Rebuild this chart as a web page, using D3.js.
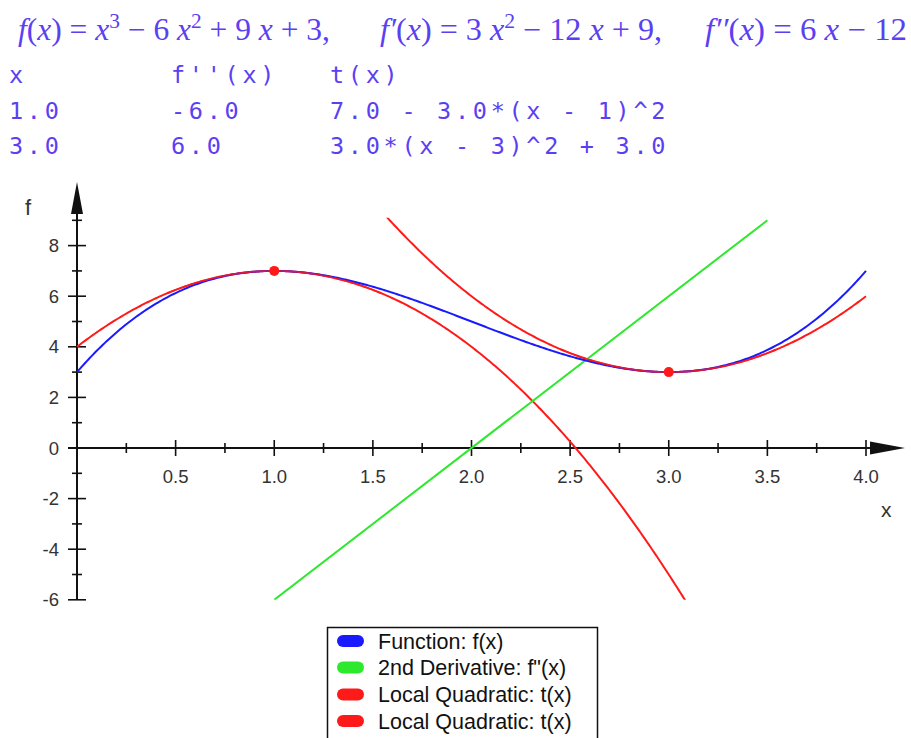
<!DOCTYPE html>
<html>
<head>
<meta charset="utf-8">
<script src="https://cdn.jsdelivr.net/npm/d3@7"></script>
<style>
  html, body { margin: 0; padding: 0; background: #ffffff; }
  svg { display: block; }
</style>
</head>
<body>
<svg id="chart" width="911" height="738"></svg>
<script>
// Cubic f(x) = x^3 - 6x^2 + 9x + 3, coefficients from highest power down
const fCoeffs = [1, -6, 9, 3];
// Second derivative f''(x) = 6x - 12
const f2Coeffs = [6, -12];
// Sample points of the table: x, f''(x), and the local quadratic t(x) = c + k*(x - a)^2
const tableX = [1.0, 3.0];
const tableF2 = [-6.0, 6.0];
const quadCenter = [1, 3];
const quadValue = [7.0, 3.0];
const quadK = [-3.0, 3.0];
const tableTText = ["7.0 - 3.0*(x - 1)^2", "3.0*(x - 3)^2 + 3.0"];

// Axis ticks
const xMajorTicks = [0.5, 1.0, 1.5, 2.0, 2.5, 3.0, 3.5, 4.0];
const xMinorTicks = [0.25, 0.75, 1.25, 1.75, 2.25, 2.75, 3.25, 3.75];
const yMajorTicks = [-6, -4, -2, 0, 2, 4, 6, 8];
const yMinorTicks = [-5, -3, -1, 1, 3, 5, 7, 9];

// Plot ranges
const xDomain = [0, 4];
const yView = [-6, 9.1];
const greenRange = [1, 3.5];

const legendLabels = ["Function: f(x)", "2nd Derivative: f\"(x)", "Local Quadratic: t(x)", "Local Quadratic: t(x)"];
const legendColors = ["#1a1aff", "#2ee82e", "#ff1a1a", "#ff1a1a"];

const BLUE = "#1a1aff", GREEN = "#2ee82e", RED = "#ff1a1a";
const TEXTC = "#5b3ff2";

const poly = (c, x) => c.reduce((acc, v) => acc * x + v, 0);

const svg = d3.select("#chart");

// ---- header formulas ----
const header = svg.append("g")
  .attr("font-family", "'Liberation Serif', 'DejaVu Serif', serif")
  .attr("font-size", 31)
  .attr("fill", TEXTC);

function mathText(x, width, parts) {
  const t = header.append("text").attr("x", x).attr("y", 40)
    .attr("textLength", width).attr("lengthAdjust", "spacingAndGlyphs");
  parts.forEach(p => {
    const s = t.append("tspan").text(p.t);
    if (p.i) s.attr("font-style", "italic");
    if (p.sup) s.attr("dy", -12).attr("font-size", 21);
    if (p.down) s.attr("dy", 12);
  });
}
mathText(18, 312, [
  {t: "f", i: 1}, {t: "("}, {t: "x", i: 1}, {t: ") = "}, {t: "x", i: 1}, {t: "3", sup: 1},
  {t: " − 6 ", down: 1}, {t: "x", i: 1}, {t: "2", sup: 1}, {t: " + 9 ", down: 1}, {t: "x", i: 1}, {t: " + 3,"}
]);
mathText(380, 282, [
  {t: "f′", i: 1}, {t: "("}, {t: "x", i: 1}, {t: ") = 3 "}, {t: "x", i: 1}, {t: "2", sup: 1},
  {t: " − 12 ", down: 1}, {t: "x", i: 1}, {t: " + 9,"}
]);
mathText(705, 202, [
  {t: "f′′", i: 1}, {t: "("}, {t: "x", i: 1}, {t: ") = 6 "}, {t: "x", i: 1}, {t: " − 12"}
]);

// ---- table ----
const table = svg.append("g")
  .attr("font-family", "'DejaVu Sans Mono', monospace")
  .attr("font-size", 23.5)
  .attr("letter-spacing", "3.7px")
  .attr("fill", TEXTC);
const colX = [9, 171, 330];
const rowY = [83, 119, 154];
table.append("text").attr("x", colX[0]).attr("y", rowY[0]).text("x");
table.append("text").attr("x", colX[1]).attr("y", rowY[0]).text("f''(x)");
table.append("text").attr("x", colX[2]).attr("y", rowY[0]).text("t(x)");
tableX.forEach((v, i) => {
  table.append("text").attr("x", colX[0]).attr("y", rowY[i + 1]).text(v.toFixed(1));
  table.append("text").attr("x", colX[1]).attr("y", rowY[i + 1]).text(tableF2[i].toFixed(1));
  table.append("text").attr("x", colX[2]).attr("y", rowY[i + 1]).text(tableTText[i]);
});

// ---- scales ----
const x = d3.scaleLinear().domain(xDomain).range([77, 866]);
const y = d3.scaleLinear().domain([0, 8]).range([448, 245.6]);

const defs = svg.append("defs");
defs.append("clipPath").attr("id", "plotclip").append("rect")
  .attr("x", x(xDomain[0]) - 2).attr("y", y(yView[1]))
  .attr("width", x(xDomain[1]) - x(xDomain[0]) + 4)
  .attr("height", y(yView[0]) - y(yView[1]));

// ---- axes ----
const axes = svg.append("g").attr("stroke", "#111").attr("stroke-width", 2);
// x axis line and arrow
axes.append("line").attr("x1", 68).attr("x2", 875).attr("y1", y(0)).attr("y2", y(0));
svg.append("path").attr("fill", "#111")
  .attr("d", `M870,${y(0) - 6.5} L905,${y(0)} L870,${y(0) + 6.5} Z`);
// y axis line and arrow
axes.append("line").attr("x1", x(0)).attr("x2", x(0)).attr("y1", y(-6)).attr("y2", 205);
svg.append("path").attr("fill", "#111")
  .attr("d", `M${x(0) - 6},214 L${x(0)},182 L${x(0) + 6},214 Z`);

const ticks = svg.append("g").attr("stroke", "#111").attr("stroke-width", 1.6);
ticks.selectAll(".xmaj").data(xMajorTicks).join("line")
  .attr("x1", d => x(d)).attr("x2", d => x(d)).attr("y1", y(0) - 8).attr("y2", y(0) + 8);
ticks.selectAll(".xmin").data(xMinorTicks).join("line")
  .attr("x1", d => x(d)).attr("x2", d => x(d)).attr("y1", y(0) - 5).attr("y2", y(0) + 5);
ticks.selectAll(".ymaj").data(yMajorTicks.filter(d => d !== 0)).join("line")
  .attr("y1", d => y(d)).attr("y2", d => y(d)).attr("x1", x(0) - 9).attr("x2", x(0) + 9);
ticks.selectAll(".ymin").data(yMinorTicks).join("line")
  .attr("y1", d => y(d)).attr("y2", d => y(d)).attr("x1", x(0) - 5).attr("x2", x(0) + 5);

const labels = svg.append("g")
  .attr("font-family", "'Liberation Sans', Arial, sans-serif")
  .attr("font-size", 18.5).attr("fill", "#333");
labels.selectAll(".xl").data(xMajorTicks).join("text")
  .attr("x", d => x(d)).attr("y", 483).attr("text-anchor", "middle")
  .text(d => d.toFixed(1));
labels.selectAll(".yl").data(yMajorTicks).join("text")
  .attr("x", 59).attr("y", d => y(d) + 6.5).attr("text-anchor", "end")
  .text(d => d);
labels.append("text").attr("x", 25).attr("y", 215).attr("font-size", 22).text("f");
labels.append("text").attr("x", 881).attr("y", 517).attr("font-size", 21).text("x");

// ---- curves ----
const plot = svg.append("g").attr("clip-path", "url(#plotclip)");
const line = d3.line().x(d => x(d[0])).y(d => y(d[1])).curve(d3.curveLinear);
const xs = d3.range(xDomain[0], xDomain[1] + 1e-9, 0.01);

const quadPts = i => xs.map(v => [v, quadValue[i] + quadK[i] * (v - quadCenter[i]) ** 2]);
[0, 1].forEach(i => {
  plot.append("path").attr("d", line(quadPts(i)))
    .attr("fill", "none").attr("stroke", RED).attr("stroke-width", 2);
});
plot.append("path").attr("d", line(greenRange.map(v => [v, poly(f2Coeffs, v)])))
  .attr("fill", "none").attr("stroke", GREEN).attr("stroke-width", 2);
plot.append("path").attr("d", line(xs.map(v => [v, poly(fCoeffs, v)])))
  .attr("fill", "none").attr("stroke", BLUE).attr("stroke-width", 2);
// red quadratic drawn again on top so the tangency regions read red
[0, 1].forEach(i => {
  plot.append("path").attr("d", line(quadPts(i).filter(p => Math.abs(p[0] - quadCenter[i]) < 0.55)))
    .attr("fill", "none").attr("stroke", RED).attr("stroke-width", 1.6).attr("opacity", 0.85);
});

svg.selectAll(".pt").data(tableX).join("circle")
  .attr("cx", d => x(d)).attr("cy", (d, i) => y(quadValue[i]))
  .attr("r", 5).attr("fill", RED);

// ---- legend ----
const lg = svg.append("g");
lg.append("rect").attr("x", 327.5).attr("y", 627.5).attr("width", 270).attr("height", 125)
  .attr("fill", "#fff").attr("stroke", "#111").attr("stroke-width", 1.5);
const rowC = [641, 667.5, 694.5, 721];
legendLabels.forEach((lab, i) => {
  lg.append("rect").attr("x", 337).attr("y", rowC[i] - 6).attr("width", 27).attr("height", 12)
    .attr("rx", 6).attr("ry", 6).attr("fill", legendColors[i]);
  lg.append("text").attr("x", 378).attr("y", rowC[i] + 7.5)
    .attr("font-family", "'Liberation Sans', Arial, sans-serif").attr("font-size", 21.5)
    .attr("fill", "#111").text(lab);
});
</script>
</body>
</html>
